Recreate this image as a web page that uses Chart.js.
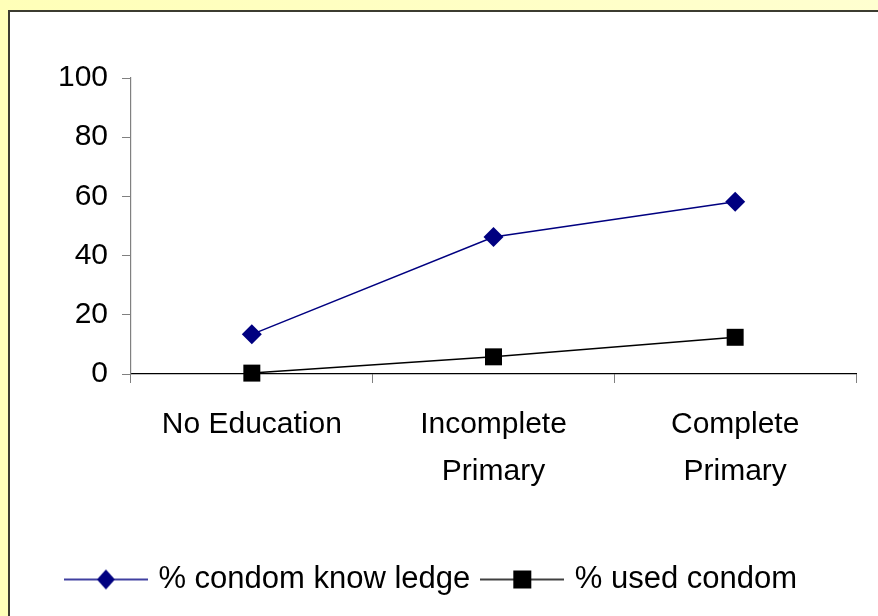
<!DOCTYPE html>
<html>
<head>
<meta charset="utf-8">
<script src="https://cdn.jsdelivr.net/npm/chart.js@4/dist/chart.umd.min.js"></script>
<style>
  html, body { margin: 0; padding: 0; width: 878px; height: 616px; overflow: hidden;
    background: linear-gradient(to right, #ffffb8, #ffffd0); }
  #panel { position: absolute; left: 8px; top: 10px; width: 870px; height: 606px;
    background: #ffffff; border-left: 2px solid #3c3c30; border-top: 2px solid #3c3c30; }
  #wrap { position: absolute; left: 0; top: 0; width: 868px; height: 604px; }
</style>
</head>
<body>
<div id="panel"><div id="wrap"><canvas id="c" width="868" height="604"></canvas></div></div>
<script>
const categories = [['No Education'], ['Incomplete', 'Primary'], ['Complete', 'Primary']];
const knowledgeValues = [13.4, 46.3, 58.2];
const usedValues = [0.3, 5.8, 12.4];
const yTicks = [0, 20, 40, 60, 80, 100];
const seriesNames = ['% condom know ledge', '% used condom'];

const FONT = "'Liberation Sans', Arial, sans-serif";

function legendIcon(color, style, r) {
  const c = document.createElement('canvas');
  c.width = 84; c.height = 24;
  const x = c.getContext('2d');
  x.strokeStyle = color; x.lineWidth = 1.5;
  x.beginPath(); x.moveTo(0, 12); x.lineTo(84, 12); x.stroke();
  x.fillStyle = color;
  x.beginPath();
  if (style === 'diamond') {
    x.moveTo(42, 12 - r); x.lineTo(42 + r * 0.9, 12); x.lineTo(42, 12 + r); x.lineTo(42 - r * 0.9, 12);
  } else {
    x.rect(42 - r, 12 - r, 2 * r, 2 * r);
  }
  x.closePath(); x.fill();
  return c;
}
const icons = [legendIcon('#000080', 'diamond', 10), legendIcon('#000000', 'square', 9)];

new Chart(document.getElementById('c'), {
  type: 'line',
  data: {
    labels: categories,
    datasets: [
      { label: seriesNames[0], data: knowledgeValues, borderColor: '#000080', backgroundColor: '#000080',
        borderWidth: 1.5, pointStyle: 'rectRot', pointRadius: 10, pointBorderWidth: 0, tension: 0, clip: false },
      { label: seriesNames[1], data: usedValues, borderColor: '#000000', backgroundColor: '#000000',
        borderWidth: 1.5, pointStyle: 'rect', pointRadius: 12, pointBorderWidth: 0, tension: 0, clip: false }
    ]
  },
  options: {
    responsive: false,
    animation: false,
    layout: { padding: { top: 66, right: 22, bottom: 11, left: 0 } },
    plugins: {
      tooltip: { enabled: false },
      legend: {
        position: 'bottom',
        labels: {
          usePointStyle: true,
          pointStyleWidth: 74,
          padding: 15,
          color: '#000',
          font: { family: FONT, size: 31 },
          generateLabels: (chart) => chart.data.datasets.map((ds, i) => ({
            text: ds.label, pointStyle: icons[i], fillStyle: ds.borderColor, strokeStyle: ds.borderColor,
            lineWidth: 0, hidden: false, datasetIndex: i, fontColor: '#000'
          }))
        }
      }
    },
    scales: {
      x: {
        offset: true,
        grid: { offset: true, drawOnChartArea: false, drawTicks: true, tickLength: 9, color: '#808080' },
        border: { color: '#000000', width: 1.2 },
        ticks: { color: '#000', font: { family: FONT, size: 30, lineHeight: 1.57 }, padding: 18, maxRotation: 0, autoSkip: false },
        afterFit: (s) => { s.height = 175; }
      },
      y: {
        min: 0, max: 100,
        afterBuildTicks: (s) => { s.ticks = yTicks.map(v => ({ value: v })); },
        grid: { drawOnChartArea: false, drawTicks: true, tickLength: 9, color: '#808080' },
        border: { color: '#808080', width: 1.2 },
        ticks: { color: '#000', font: { family: FONT, size: 30 }, padding: 14 },
        afterFit: (s) => { s.width = 121; }
      }
    }
  }
});
</script>
</body>
</html>
